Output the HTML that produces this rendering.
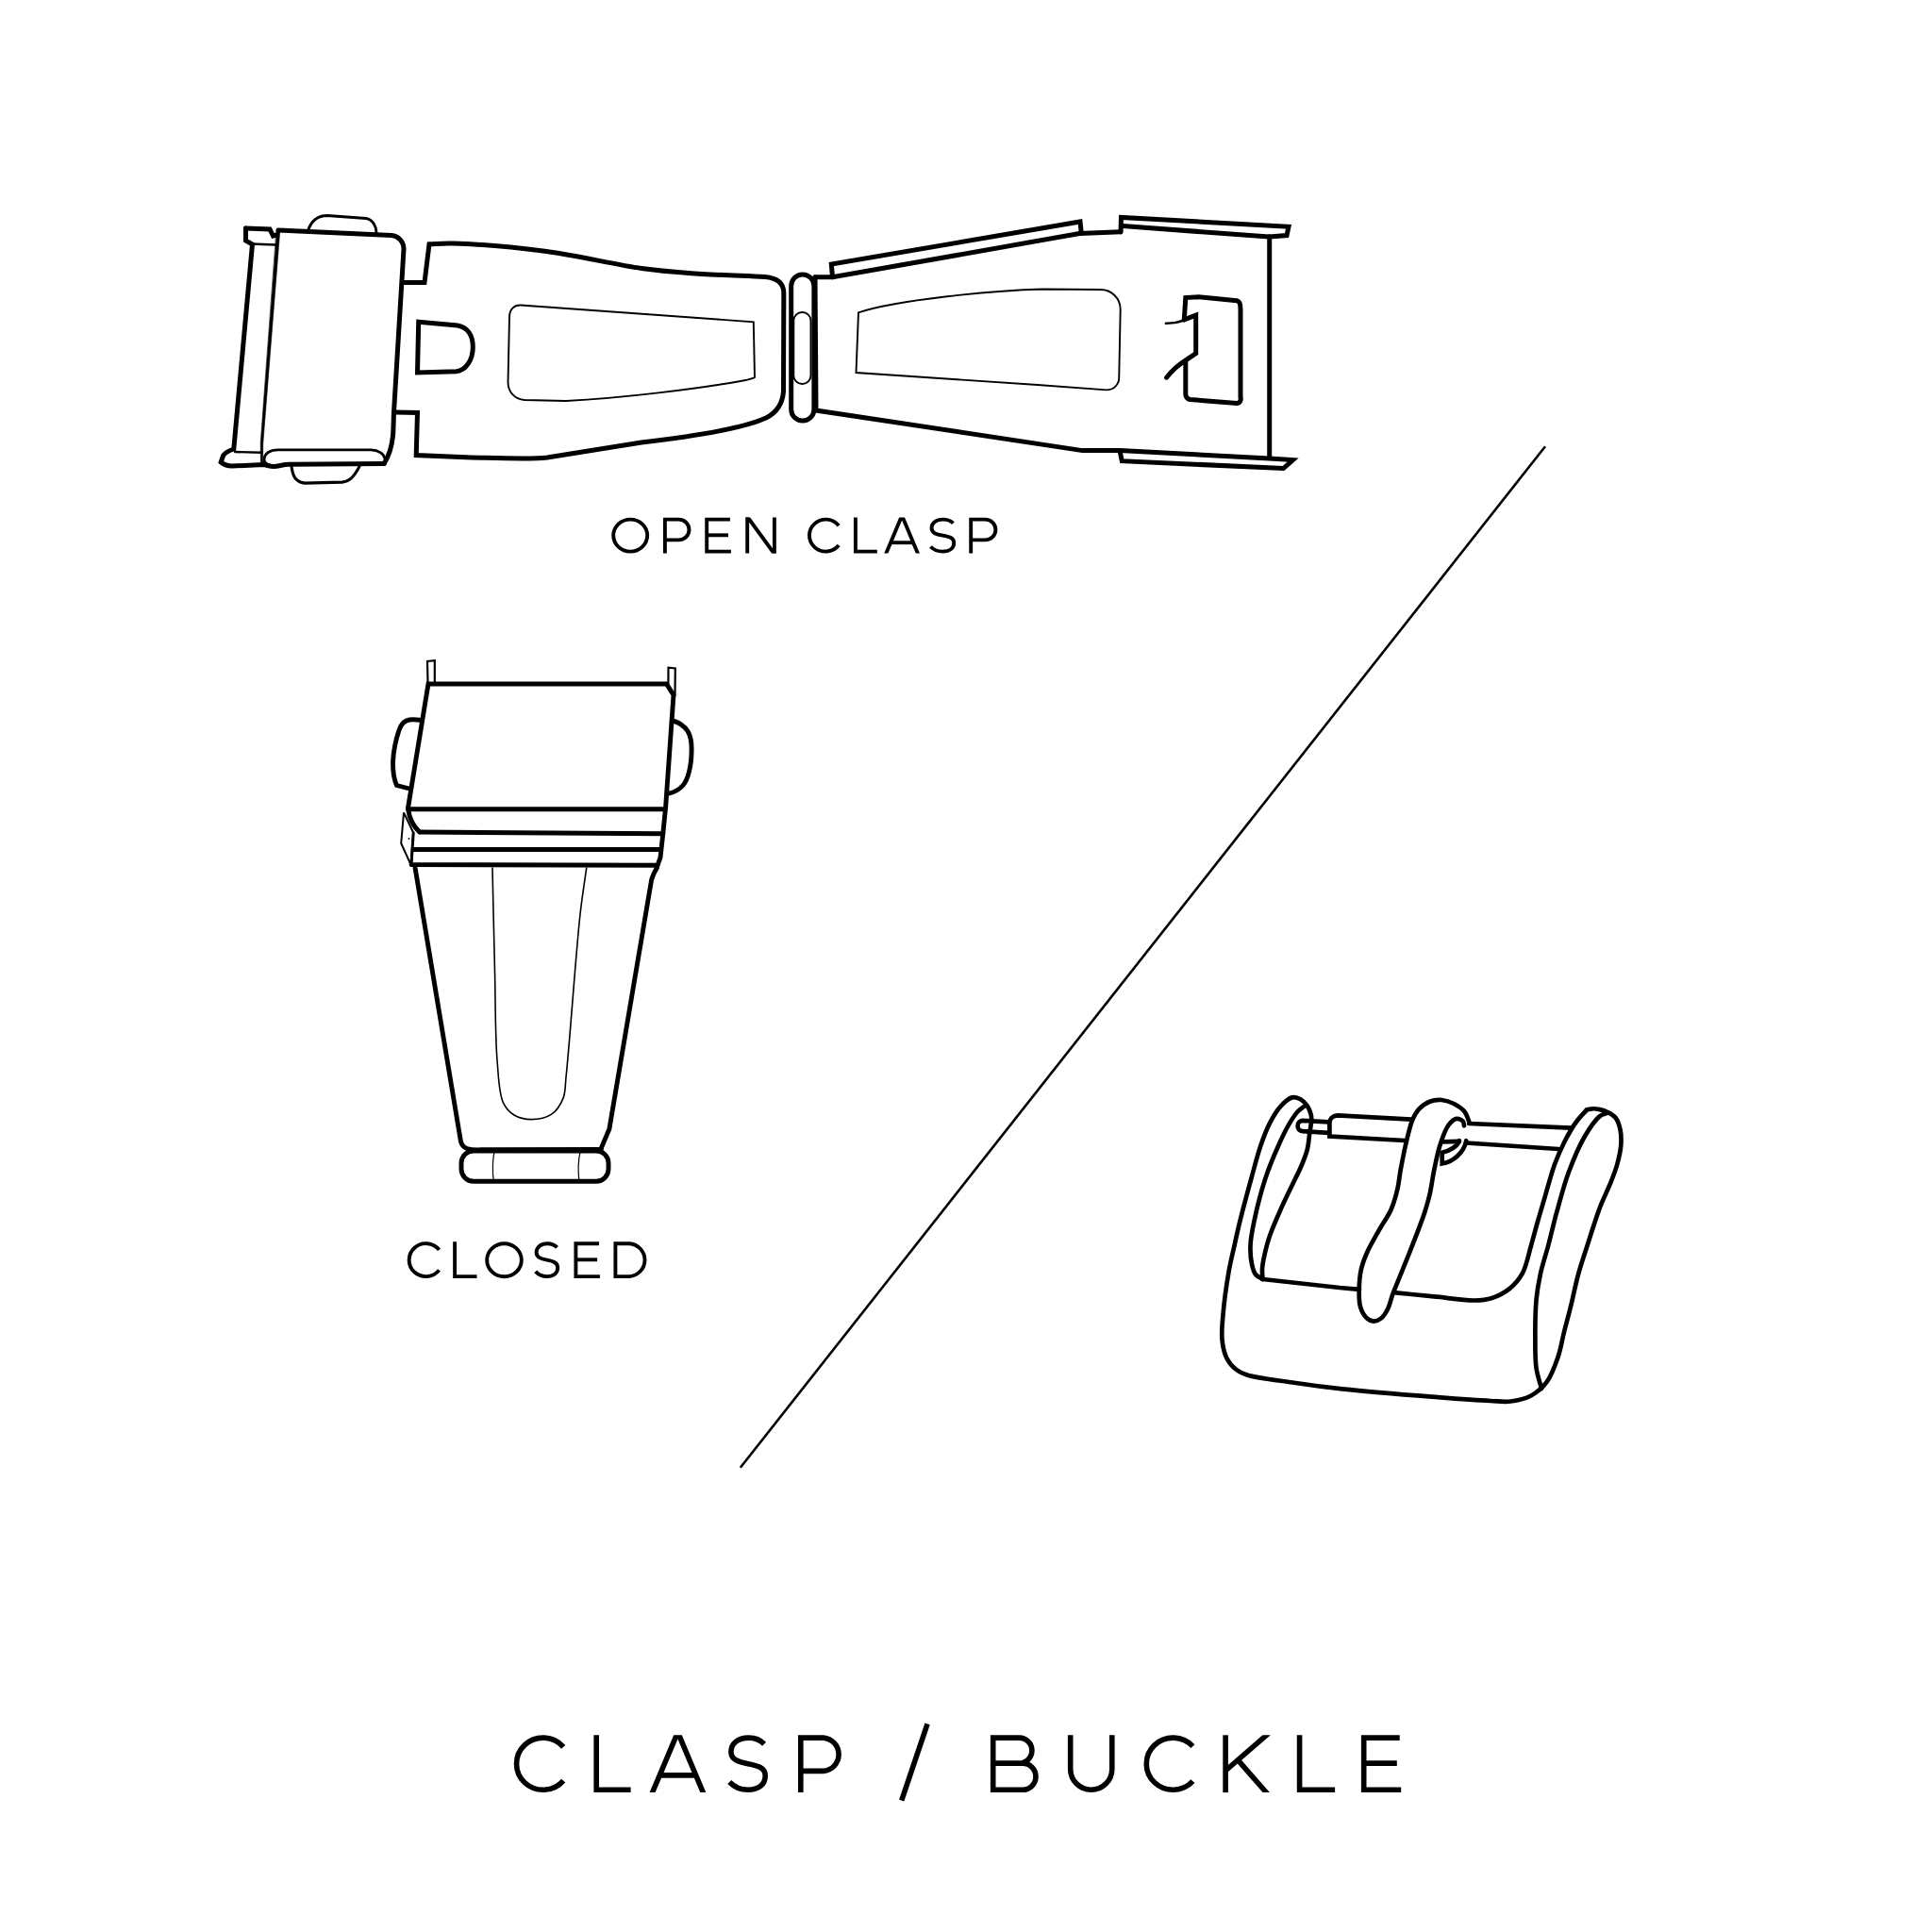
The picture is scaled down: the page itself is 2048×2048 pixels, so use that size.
<!DOCTYPE html>
<html><head><meta charset="utf-8"><title>Clasp / Buckle</title>
<style>html,body{margin:0;padding:0;background:#fff;}svg{display:block;}</style>
</head><body>
<svg width="2048" height="2048" viewBox="0 0 2048 2048">
<defs><clipPath id="c1"><rect x="0" y="548.6" width="2048" height="38"/></clipPath>
<clipPath id="c2"><rect x="0" y="1316.2" width="2048" height="38.9"/></clipPath>
<clipPath id="c3"><rect x="0" y="1839.3" width="2048" height="60.8"/></clipPath></defs>
<rect width="2048" height="2048" fill="#fff"/>
<g fill="none" stroke="#000" stroke-linecap="round" stroke-linejoin="miter" stroke-miterlimit="3">
<path d="M260.5,242 L286,243 L289.5,250 L293,249" stroke-width="5"/>
<path d="M260.5,242 L260.5,255 L267.5,259 L247.8,476 C242,478 237,481 236.2,484 L234.2,490 C238,493 242,494 246,494 L279,492.5 C283,493 286,494.5 290,494.5 C296,494 300,492.5 306,492.3 L407.2,491.4" stroke-width="5"/>
<path d="M266,258.5 L292,259.5" stroke-width="2.5"/>
<path d="M277.5,479.8 L249,479" stroke-width="2.4"/>
<path d="M295,244 L415,249.5 C422,250 428,256 428,264 L417.5,437 C417,450 417,458 416.5,462 C415.5,472 413,482 407.2,491.4" stroke-width="5"/>
<path d="M293.2,244 L296.8,244 L278.8,470 L278.6,490 L276.4,490 L276.2,470 Z" fill="#000" stroke="#000" stroke-width="0.6"/>
<path d="M287,493.5 C282,492 279.5,489 280.1,486 C281,480 287,477 294.9,476.8 L393.2,476.8 C401,477 407,481 407.9,486" stroke-width="2.8"/>
<path d="M326.5,244.4 C330,234 337,228.5 347,228.5 L387.9,231.5 C395,232.5 399,240 399.1,246.9" stroke-width="2.9"/>
<path d="M308.9,493.5 C309.5,499 310,503 313,507 C315.5,510 319,512 323.3,512.1 L362.7,511.1 C368,510.5 372,508 375.1,503.9 C378,500 380,497 381.3,493.5" stroke-width="3.1"/>
<path d="M428.7,299.5 L450,299.5 L455,258.8 C463.3,258.5 468.9,257.7 480,258 C501.9,258.6 544.7,262 577.5,266.3 C611.3,270.7 651.8,280.6 680,284.5 C699.6,287.2 711.3,288.1 730,289.5 C753.7,291.3 784,292.2 811,293.5 C822,294.5 830.5,299 830.8,310 L830.8,320 L830.5,415 C829.5,428 824,437 812,443 C790,453 740,462 680,469 L580,485 C565,487 540,486 500,485 L441.2,482.5 L442.5,437.5 L418.7,437" stroke-width="5"/>
<path d="M443.7,341.3 L485,345 C496,347 501.3,356 501.3,368 C501.3,381 494,393 483.7,393.8 L442.5,395 Z" stroke-width="5"/>
<path d="M552,323.5 L798.8,341.3 L800,400 C797,402 790,403 785,404 C740,412 660,422 600,425 L556,424 C545,423 538.5,415 538.5,405 L540,336 C540,328 545,323 552,323.5 Z" stroke-width="1.9"/>
<rect x="838.7" y="291" width="24.2" height="155" rx="12.1" stroke-width="5"/>
<rect x="841.3" y="331" width="18.2" height="76" rx="9" stroke-width="1.9"/>
<path d="M864,293.8 L882.5,293.8 L1144.3,247.5 L1188,245.7" stroke-width="5"/>
<path d="M882.5,293.8 L881.3,280 L1145,235 L1146.3,247.5" stroke-width="5"/>
<path d="M1188,246 L1188.5,230.5 L1366,240.3 L1364,249.6 L1345.3,251.1" stroke-width="5"/>
<path d="M1190,239.5 L1345.3,251.1" stroke-width="5"/>
<path d="M1345.7,251.1 L1345.7,484.8" stroke-width="5"/>
<path d="M1187,477.6 L1345.7,486 L1370.5,487.6 L1360.5,496.5 L1189.3,488.7 L1187,477.6Z" stroke-width="5" stroke-linejoin="miter"/>
<path d="M864,293.8 L865,435 L1147.5,477.6 L1187,477.4" stroke-width="5" stroke-linejoin="miter"/>
<path d="M910,331.3 C950,318 1050,308 1105,306.5 L1166.8,307 C1178,307 1187.7,316 1187.7,328 L1186.2,401 C1186,408 1180,413.4 1173,413.4 L1100,408 L907.5,395 Z" stroke-width="1.9"/>
<path d="M1255.3,338.9 L1256.8,315.6 L1270.8,314.8 L1311.2,318.7 C1314,319.2 1315,324 1315,328 L1315,421.2 C1316,424 1314,427.4 1311.2,427.4 L1261.5,423.5 C1259,423 1256.8,421 1256.8,418 L1256.8,382.4" stroke-width="5"/>
<path d="M1255.3,338.9 L1267.7,334.2 L1267.7,374.6 L1258.4,380.8 C1250,386 1242,393 1236.6,400.2" stroke-width="5"/>
<path d="M1235.9,342.8 C1243,343 1250,341.5 1255.3,339.5" stroke-width="2.6"/>
<path d="M453.5,723.5 L453,701 L460.8,700.2 L460.8,723.5" stroke-width="2.2"/>
<path d="M708.4,726 L708.5,707.7 L715.8,708.5 L715.5,737" stroke-width="2.2"/>
<path d="M432.6,856 L454,725 L706.5,725 L714,736.6 L705.6,855.8 L702.8,883.8 L700,909 L697,917.3" stroke-width="4.9"/>
<path d="M432.6,857.7 L703.7,857.7" stroke-width="4.9"/>
<path d="M432.6,857.7 C434,868 438,876 444.7,881.8" stroke-width="4.9"/>
<path d="M444.7,882 L702.8,883.8" stroke-width="4.9"/>
<path d="M438.2,900.5 L700,900.5" stroke-width="4.9"/>
<path d="M436,916.6 L697,917.3" stroke-width="4.9"/>
<path d="M438.2,882.8 L436,917" stroke-width="3"/>
<path d="M428,861.4 L425.2,894 L435.4,916.4 L438.2,882.8 L428,861.4Z" stroke-width="2"/>
<circle cx="433.5" cy="889" r="0.9" fill="#000" stroke="none"/>
<path d="M444.9,763.2 C440,762.5 437,762.5 434,763 C428,764 425,768 423,774 C420,783 417,797 416.6,807 C416.3,818 417.5,826 420.5,832.5 L434,836" stroke-width="4.9"/>
<path d="M712.9,764 C719,765.5 725,769 729,775 C732,780 733.2,787 733.1,795 C733,805 732,812 730.5,818 C729,824 727,829 724,832.5 C720,837 714,840 708.8,841.1" stroke-width="4.9"/>
<path d="M440.1,920.1 L488.3,1209.1 C489,1213 491,1216 495,1217.5 C500,1219 505,1219 510,1218.8 L637.4,1218.5" stroke-width="4.9"/>
<path d="M696.3,920.1 C694,924 692,928 690.7,932.2 L645.9,1196.7 L637.4,1216.9" stroke-width="4.9"/>
<rect x="489" y="1220" width="156" height="32.3" rx="13" stroke-width="4.9"/>
<path d="M524,1221.6 C522,1230 522,1244 523.3,1251.8" stroke-width="1.2"/>
<path d="M614.9,1221.6 C613,1230 613,1244 613.8,1251.8" stroke-width="1.2"/>
<path d="M522,920.1 C522.8,956.7 523.6,994.7 524.5,1030 C525.3,1062.9 524.9,1099.7 527.1,1125.3 C528.6,1142.7 528.8,1158.9 533.4,1168.8 C536.3,1175 540.2,1179 545,1182 C550,1185 556.6,1186.6 562.9,1186.6 C569.8,1186.6 578.9,1185.1 584.6,1181.2 C590.2,1177.4 594.4,1170.6 597,1164.1 C599.7,1157.2 598.9,1152.2 600.1,1140.8 C603.5,1110.1 610.5,1009.9 614.9,970 C617.3,948.4 619.4,936.7 621.7,920.1" stroke-width="1.6"/>
<path d="M1638,473.2 L784.8,1555.8" stroke-width="2.6" stroke-linecap="butt"/>
<path d="M1338.5,1356 C1338.3,1352.3 1337.8,1348.9 1338,1345 C1338.3,1340.4 1339.3,1335.3 1340.5,1330 C1341.9,1323.8 1343.5,1317.2 1346,1310 C1349.1,1301 1353.9,1290.3 1358.3,1280.4 C1362.8,1270.3 1369,1258 1372.8,1250 C1375.3,1244.8 1377,1241.8 1379,1237 C1381.4,1231.4 1384.2,1224.5 1385.8,1218.3 C1387.3,1212.5 1387.5,1206.3 1388.3,1200.9 C1389,1196.1 1390.1,1191 1390.2,1187.3 C1390.3,1184.8 1390.2,1183.3 1389.6,1181.1 C1388.9,1178.4 1387.6,1175 1385.8,1172.4 C1384,1169.8 1381.7,1167 1379,1165.5 C1376.3,1164 1372.9,1162.7 1369.7,1163.4 C1365.7,1164.3 1361,1168.9 1357.3,1173 C1353,1177.7 1349.5,1183.9 1346.1,1190.4 C1342.3,1197.8 1339.2,1206.1 1336.1,1215.2 C1332.5,1225.7 1329.6,1237.8 1326.2,1250 C1322.5,1263.5 1317.9,1280.2 1314.8,1292.9 C1312.3,1302.9 1310.6,1310.8 1308.6,1320 C1306.5,1329.4 1304.2,1338.2 1302.4,1348.8 C1300.2,1361.6 1297.8,1378.6 1296.7,1391.4 C1295.8,1401.9 1294.6,1411.4 1295.5,1420 C1296.2,1427.3 1297.7,1434.5 1300.5,1440 C1302.9,1444.7 1306.3,1448.6 1310,1451.5 C1313.5,1454.3 1316.5,1455.7 1322,1457.5 C1332.5,1460.9 1353.6,1463.1 1370,1465.5 C1387.2,1468.1 1402.7,1470.2 1422.9,1472.4 C1450,1475.3 1489.8,1478.5 1518.1,1480.7 C1540.9,1482.5 1564.7,1484.3 1580,1485 C1589,1485.4 1594.3,1486.4 1601.4,1485.5 C1608.6,1484.6 1616.5,1482.9 1622.9,1479.5 C1629.2,1476.1 1634.9,1471.3 1639.5,1465.2 C1644.7,1458.2 1648.3,1447.9 1651.4,1439 C1654.4,1430.2 1655.7,1421.2 1658,1412 C1660.4,1402.5 1663.1,1392.9 1665.5,1383 C1668.1,1372.6 1670.1,1361.5 1673,1351 C1675.9,1340.5 1679.2,1331 1682.7,1320 C1686.7,1307.5 1691.5,1291.8 1695.9,1280.1 C1699.5,1270.7 1703.5,1263.2 1706.7,1255.2 C1709.6,1248 1712.3,1241.5 1714.2,1234.5 C1716.1,1227.7 1717.8,1220.3 1718.3,1213.8 C1718.7,1208 1718.6,1202.3 1717.5,1197.3 C1716.5,1192.8 1715,1187.9 1712.5,1184.8 C1710.3,1182.1 1707.1,1180.5 1704.2,1179 C1701.5,1177.6 1698.7,1176.7 1695.9,1176.1 C1693.2,1175.5 1690.2,1175.1 1687.7,1175.3 C1685.6,1175.4 1683.8,1176.2 1681.9,1176.6" stroke-width="4.7"/>
<path d="M1382.1,1173 C1380,1174.7 1378,1175.8 1375.9,1178 C1373,1181.1 1370.2,1185.4 1367.2,1190.4 C1363.2,1197.1 1358.8,1206.1 1354.8,1215.2 C1350.1,1225.7 1345.1,1237.7 1341.1,1250 C1336.7,1263.4 1332.5,1280.2 1329.8,1292.9 C1327.7,1302.9 1325.8,1311.6 1325.5,1320 C1325.2,1327.2 1325.8,1334.4 1327,1340 C1327.9,1344.3 1328.9,1348.3 1331,1351 C1332.9,1353.4 1336,1354.3 1338.5,1356" stroke-width="4.7"/>
<path d="M1338.5,1356 L1420,1365 L1441,1366.8" stroke-width="4.7"/>
<path d="M1477.5,1370.2 C1491.7,1371.6 1505.8,1372.9 1520,1374.3 C1534.3,1375.7 1551.6,1378.7 1562.9,1378.5 C1570.4,1378.4 1575.5,1377.9 1581.5,1376 C1587.9,1373.9 1594.7,1370.4 1600.1,1366.1 C1605.5,1361.7 1610.1,1356.6 1613.8,1349.9 C1618.2,1341.8 1620.3,1329.5 1623.1,1320 C1625.6,1311.3 1627.6,1303.5 1630,1295 C1632.5,1286.1 1635.2,1277.2 1638,1267.7 C1641.1,1257.2 1644.2,1244.7 1647.9,1234.5 C1651.2,1225.5 1654.7,1217.5 1658.7,1209.7 C1662.5,1202.4 1666.8,1194.9 1671.1,1189 C1674.6,1184.2 1678.3,1180.7 1681.9,1176.6" stroke-width="4.7"/>
<path d="M1704.2,1179.5 C1701.4,1180.7 1698.8,1180.9 1695.9,1183.2 C1690.8,1187.3 1684.5,1196.8 1679.4,1205.5 C1673.2,1216.1 1667.6,1229.9 1662.8,1242.8 C1657.9,1256.1 1654.1,1270.9 1650.4,1284.2 C1647,1296.5 1644.3,1308.6 1641.3,1320 C1638.5,1330.5 1635.1,1340.2 1633,1350 C1631,1359.3 1629.6,1367.2 1628.6,1377.3 C1627.4,1389.9 1627.3,1407 1627.4,1420 C1627.4,1430.9 1627.2,1440.8 1628.5,1450 C1629.6,1458 1632.2,1464.7 1634,1472" stroke-width="4.7"/>
<path d="M1408.2,1189.4 L1380.9,1187.9 C1377.5,1188 1375.6,1190.5 1375.6,1193.5 C1375.6,1196.5 1377.5,1199 1380.9,1199.1 L1408.2,1200.9" stroke-width="4.7"/>
<path d="M1496.2,1186.6 L1418,1182.3 C1413,1182.3 1409.4,1186 1409.4,1190 L1409.4,1204.5 L1489,1209" stroke-width="4.7"/>
<path d="M1557.1,1191 L1665.3,1195.6" stroke-width="4.7"/>
<path d="M1554,1211.5 L1652,1218" stroke-width="4.7"/>
<path d="M1557.1,1188.5 C1555.6,1185.2 1555,1181.4 1552.6,1178.5 C1549.9,1175.2 1545.3,1172.1 1541.2,1170 C1537.1,1167.9 1532.5,1166.4 1528.1,1166 C1523.9,1165.7 1519.5,1166.2 1515.6,1167.7 C1511.5,1169.3 1507.3,1172.3 1504.2,1175.6 C1501.2,1178.8 1499.3,1182.5 1497.3,1187 C1494.9,1192.6 1493.5,1199.5 1491.6,1207 C1489.2,1216.6 1486.5,1230.4 1484.7,1240 C1483.4,1247.3 1483.1,1252.7 1481.6,1259.4 C1479.9,1266.8 1477.8,1274.9 1474.6,1282.2 C1471.4,1289.6 1466.3,1296 1462.2,1303.4 C1457.8,1311.3 1452.3,1320.4 1449,1328 C1446.3,1334.2 1444.3,1339.3 1442.9,1345.6 C1441.4,1352.4 1440.8,1360.7 1440.7,1367.6 C1440.6,1373.8 1440.5,1380.1 1442,1385.2 C1443.3,1389.6 1445.5,1394 1448.2,1396.6 C1450.4,1398.8 1453.4,1400.5 1456.1,1400.6 C1458.7,1400.7 1461.7,1399.3 1464,1397.5 C1466.8,1395.4 1469.1,1391.6 1471,1387.8 C1473.3,1383.3 1474.3,1377.4 1476.3,1372 C1478.4,1366.3 1480.9,1360.7 1483.4,1354.4 C1486.4,1347.1 1489.7,1338.8 1493,1330.6 C1496.5,1321.8 1500.5,1311.7 1503.6,1303.4 C1506.2,1296.4 1508.5,1290.5 1510.6,1284 C1512.6,1277.6 1514.3,1271.5 1515.9,1264.6 C1517.6,1256.9 1518.5,1248.4 1520.3,1240 C1522.2,1231.1 1524.1,1220.9 1526.9,1212.6 C1529.3,1205.3 1532,1197.3 1535.5,1192.7 C1538,1189.4 1541.2,1186.3 1544,1185.9 C1546.3,1185.6 1549.6,1187.2 1550.9,1188.7 C1551.9,1189.9 1551.6,1191.8 1552,1193.3" stroke-width="4.7"/>
<path d="M1554.3,1209.2 C1552,1222 1540,1232 1528.7,1233.5 L1528.7,1221.8 C1537,1220 1545,1215 1546.9,1209.2" stroke-width="4.7"/>
<path d="M1529.8,1210.4 L1547,1209.8" stroke-width="4.7"/>
</g>
<g fill="none" stroke="#000" stroke-width="3.9" stroke-linecap="butt" stroke-linejoin="miter">
<ellipse cx="668.2" cy="567.6" rx="18" ry="17"/>
<path d="M704.9,586.6 V550.6 H719.6 A10.9,10.9 0 0 1 719.6,572.4 H704.9"/>
<path d="M773.9,550.6 H749.2 V584.6 H774.9"/>
<path d="M749.2,567.3 H772"/>
<path d="M792.2,586.6 V548.6 M820.9,586.6 V548.6"/>
<path d="M790.3,548.6 L795.2,548.6 L822.9,586.6 L818,586.6 Z" fill="#000" stroke="none"/>
<path d="M889.1,557.2 A17.4,17 0 1 0 889.1,578"/>
<path d="M906.9,548.6 V584.6 H929.8"/>
<path d="M938.1,589.5 L956.1,546.5 L974.1,589.5" clip-path="url(#c1)" stroke-linejoin="miter" stroke-miterlimit="20"/>
<path d="M944.6,575.2 H967.6"/>
<path d="M1010.4,554.6 C1007.4,551.6 1003.8,550.6 999.7,550.6 C992.1,550.6 987.5,554.6 987.5,559.8 C987.5,571 1011.2,564.2 1011.2,575.4 C1011.2,580.9 1006.8,584.6 999.2,584.6 C994.1,584.6 989.5,582.6 986.5,579.5"/>
<path d="M1029.2,586.6 V550.6 H1044.5 A10.9,10.9 0 0 1 1044.5,572.4 H1029.2"/>
</g>
<g fill="none" stroke="#000" stroke-width="3.9" stroke-linecap="butt" stroke-linejoin="miter">
<path d="M465.5,1324.9 A17.8,17.5 0 1 0 465.5,1346.4"/>
<path d="M482.1,1316.2 V1353.1 H505.5"/>
<ellipse cx="534.5" cy="1335.7" rx="18.3" ry="17.5"/>
<path d="M590.5,1322.4 C587.6,1319.2 584.2,1318.2 580.3,1318.2 C573,1318.2 568.6,1322.4 568.6,1327.6 C568.6,1339.1 591.2,1332.2 591.2,1343.7 C591.2,1349.3 587.1,1353.1 579.8,1353.1 C574.9,1353.1 570.6,1351 567.7,1347.9"/>
<path d="M635,1318.2 H610.4 V1353.1 H635.9"/>
<path d="M610.4,1335.3 H633.1"/>
<path d="M652.4,1318.2 V1353.1 H667.3 A17.5,17.5 0 0 0 667.3,1318.2 H652.4 Z"/>
</g>
<g fill="none" stroke="#000" stroke-width="5.6" stroke-linecap="butt" stroke-linejoin="miter">
<path d="M597.2,1851.8 A28.2,27.6 0 1 0 597.2,1887.6"/>
<path d="M632.2,1839.3 V1897.3 H668.6"/>
<path d="M689.6,1904.8 L718.5,1836.2 L747.3,1904.8" clip-path="url(#c3)" stroke-linejoin="miter" stroke-miterlimit="20"/>
<path d="M700,1881.9 H736.9"/>
<path d="M810.1,1848.7 C805.4,1843.8 799.9,1842.1 793.6,1842.1 C781.9,1842.1 774.9,1848.7 774.9,1857 C774.9,1875.2 811.2,1864.2 811.2,1882.4 C811.2,1891.2 804.6,1897.3 792.9,1897.3 C785,1897.3 778,1894 773.3,1889"/>
<path d="M848.8,1900.1 V1842.1 H872.7 A17.7,17.7 0 0 1 872.7,1877.4 H848.8"/>
<path d="M983.1,1827.3 L955.7,1908.6"/>
<path d="M1052.7,1897.3 V1842.1 H1080.4 A13.5,13.5 0 0 1 1080.4,1869.1 H1052.7 M1052.7,1869.1 H1083.9 A14.1,14.1 0 0 1 1083.9,1897.3 H1049.9"/>
<path d="M1134.7,1839.3 V1875.2 A22,22 0 0 0 1178.8,1875.2 V1839.3"/>
<path d="M1264.4,1851.2 A28.2,27.6 0 1 0 1264.4,1888.2"/>
<path d="M1299.1,1839.3 V1900.1"/>
<path d="M1344.8,1837.4 L1299.1,1877" clip-path="url(#c3)"/>
<path d="M1312.1,1865.7 L1343.8,1901.8" clip-path="url(#c3)"/>
<path d="M1377.6,1839.3 V1897.3 H1415.1"/>
<path d="M1483.7,1842.1 H1445.7 V1897.3 H1485.2"/>
<path d="M1445.7,1869.1 H1480.8"/>
</g>
</svg>
</body></html>
